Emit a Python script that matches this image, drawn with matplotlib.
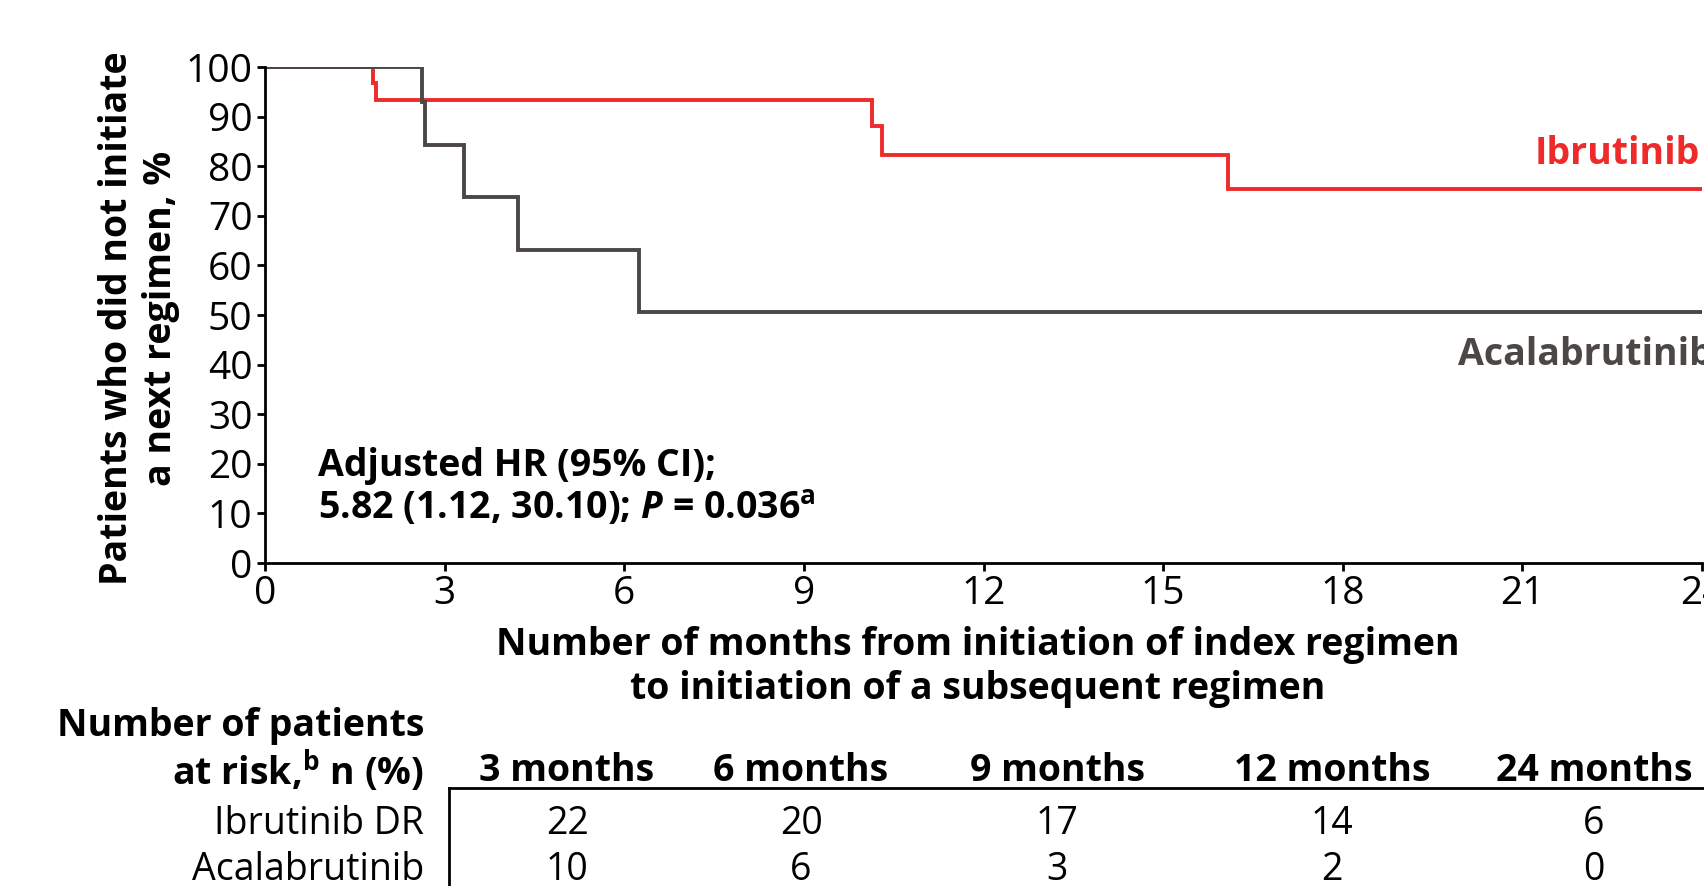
import matplotlib
matplotlib.use("Agg")
import matplotlib.pyplot as plt

# ##################################################
# data
# ##################################################

ibr_months = [0, 1.80, 1.85, 10.13, 10.30, 16.08, 24]
ibr_pct = [100, 96.7, 93.3, 88.1, 82.3, 75.4, 75.4]

aca_months = [0, 2.63, 2.68, 3.32, 4.23, 6.24, 24]
aca_pct = [100, 92.9, 84.2, 73.8, 63.2, 50.6, 50.6]

risk_cols = ["3 months", "6 months", "9 months", "12 months", "24 months"]
risk_ibr = [22, 20, 17, 14, 6]
risk_aca = [10, 6, 3, 2, 0]

RED = "#ee2b2a"
GREY = "#4c4744"
FS = 27

plt.rcParams["font.family"] = ["Open Sans", "DejaVu Sans"]
plt.rcParams["mathtext.fontset"] = "custom"
plt.rcParams["mathtext.rm"] = "Open Sans"
plt.rcParams["mathtext.bf"] = "Open Sans:weight=bold"
plt.rcParams["mathtext.it"] = "Open Sans:style=italic:weight=bold"

W, H = 1704, 886
fig = plt.figure(figsize=(W / 100, H / 100), dpi=100)

# main KM axes (pixel box of the reference)
ax = fig.add_axes([265 / W, 1 - 563 / H, (1702 - 265) / W, (563 - 67) / H])
ax.step(ibr_months, ibr_pct, where="post", color=RED, lw=2.8, solid_joinstyle="miter")
ax.step(aca_months, aca_pct, where="post", color=GREY, lw=2.8, solid_joinstyle="miter")
ax.set_xlim(0, 24)
ax.set_ylim(0, 100)
ax.set_xticks(range(0, 25, 3))
ax.set_yticks(range(0, 101, 10))
for s in ["top", "right"]:
    ax.spines[s].set_visible(False)
for s in ["left", "bottom"]:
    ax.spines[s].set_linewidth(2)
ax.tick_params(direction="out", length=6, width=2, labelsize=28, pad=3)

ax.text(23.97, 82.5, "Ibrutinib", color=RED, fontsize=FS, fontweight="bold",
        ha="right", va="center")
ax.text(19.93, 42.0, "Acalabrutinib", color=GREY, fontsize=FS, fontweight="bold",
        ha="left", va="center", clip_on=False)

# overlay in pixel coordinates for labels and the at-risk table
ov = fig.add_axes([0, 0, 1, 1])
ov.set_xlim(0, W)
ov.set_ylim(H, 0)
ov.axis("off")

ov.text(139, 318, "Patients who did not initiate\na next regimen, %", rotation=90,
        fontsize=FS, fontweight="bold", ha="center", va="center",
        multialignment="center", linespacing=1.2)
ov.text(978, 667, "Number of months from initiation of index regimen\n"
        "to initiation of a subsequent regimen", fontsize=FS, fontweight="bold",
        ha="center", va="center", multialignment="center", linespacing=1.2)

ov.text(318, 466, "Adjusted HR (95% CI);", fontsize=FS, fontweight="bold",
        ha="left", va="center")
ov.text(318, 509, r"5.82 (1.12, 30.10); $\mathit{P}$ = 0.036$^{\mathbf{a}}$",
        fontsize=FS, fontweight="bold", ha="left", va="center")

ov.text(424, 726, "Number of patients", fontsize=FS, fontweight="bold",
        ha="right", va="center")
ov.text(424, 771, r"at risk,$^{\mathbf{b}}$ n (%)", fontsize=FS, fontweight="bold",
        ha="right", va="center")

col_x = [567, 801, 1057, 1332, 1594]
for x, name, a, b in zip(col_x, risk_cols, risk_ibr, risk_aca):
    ov.text(x, 771, name, fontsize=FS, fontweight="bold", ha="center", va="center")
    ov.text(x, 824, str(a), fontsize=FS, ha="center", va="center")
    ov.text(x, 870, str(b), fontsize=FS, ha="center", va="center")

ov.text(424, 824, "Ibrutinib DR", fontsize=FS, ha="right", va="center")
ov.text(424, 870, "Acalabrutinib", fontsize=FS, ha="right", va="center")

ov.plot([449, W], [788, 788], color="black", lw=2)
ov.plot([449, 449], [788, H], color="black", lw=2)

fig.savefig("out.png", dpi=100, facecolor="white")
